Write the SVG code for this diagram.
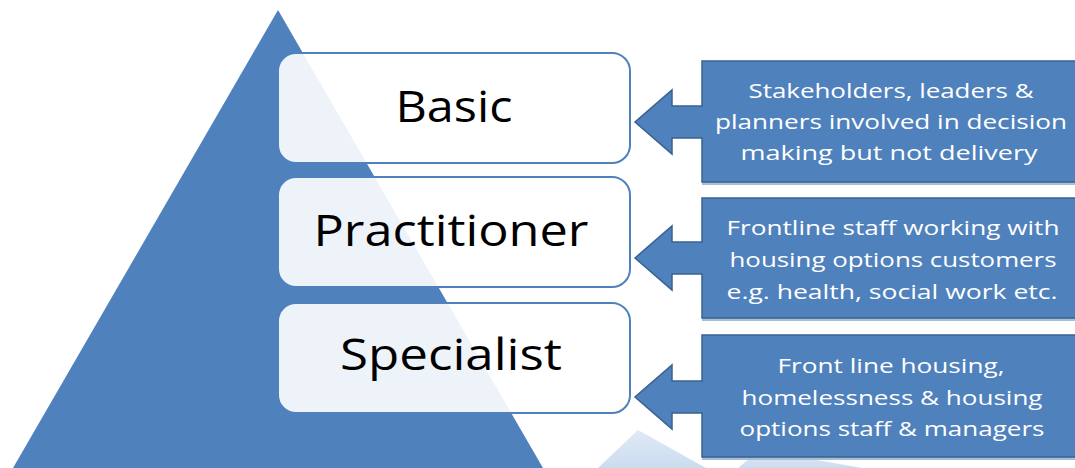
<svg xmlns="http://www.w3.org/2000/svg" width="1075" height="468" viewBox="0 0 1075 468">
  <defs>
    <linearGradient id="fade" x1="0" y1="0" x2="0" y2="1">
      <stop offset="0" stop-color="#DCE7F4" stop-opacity="0.9"/>
      <stop offset="1" stop-color="#C6D8EE" stop-opacity="0.9"/>
    </linearGradient>
  </defs>
  <style>
    .tri { fill: #4F81BD; }
    .box { fill: #FFFFFF; fill-opacity: 0.9; stroke: #4F81BD; stroke-width: 2; }
    .lbl { font-family: "Open Sans", "Liberation Sans", sans-serif; font-size: 44px; fill: #000000; text-anchor: middle; }
    .call { fill: #4F81BD; stroke: #3A6190; stroke-width: 1.5; }
    .shadow { fill: #A9BDD6; }
    .ctext { font-family: "Open Sans", "Liberation Sans", sans-serif; font-size: 20px; fill: #FFFFFF; text-anchor: middle; }
  </style>
  <rect width="1075" height="468" fill="#FFFFFF"/>

  <g id="reflection">
    <polygon points="638,430 598,468 706,468" fill="url(#fade)"/>
    <polygon points="760,450 738,468 862,468" fill="url(#fade)"/>
  </g>

  <g id="pyramid">
    <polygon class="tri" points="278,10 13,468 543,468"/>
  </g>

  <g id="node-basic">
    <rect class="box" x="278" y="53" width="352" height="110" rx="18" ry="18"/>
    <text class="lbl" x="454" y="122" textLength="117" lengthAdjust="spacingAndGlyphs">Basic</text>
  </g>
  <g id="node-practitioner">
    <rect class="box" x="278" y="177" width="352" height="110" rx="18" ry="18"/>
    <text class="lbl" x="451" y="246" textLength="275" lengthAdjust="spacingAndGlyphs">Practitioner</text>
  </g>
  <g id="node-specialist">
    <rect class="box" x="278" y="303" width="352" height="110" rx="18" ry="18"/>
    <text class="lbl" x="451" y="370" textLength="222" lengthAdjust="spacingAndGlyphs">Specialist</text>
  </g>

  <g id="connectors">
    <g id="callout-1">
      <path class="shadow" d="M702,64 L1077,64 L1077,185 L702,185 Z"/>
      <path class="call" d="M702,61 L1077,61 L1077,182 L702,182 L702,138 L672,138 L672,154 L635,122 L672,90 L672,106 L702,106 Z"/>
      <text class="ctext" x="891" y="98" textLength="285" lengthAdjust="spacingAndGlyphs">Stakeholders, leaders &amp;</text>
      <text class="ctext" x="891" y="129" textLength="352" lengthAdjust="spacingAndGlyphs">planners involved in decision</text>
      <text class="ctext" x="889" y="160" textLength="297" lengthAdjust="spacingAndGlyphs">making but not delivery</text>
    </g>
    <g id="callout-2">
      <path class="shadow" d="M702,201 L1077,201 L1077,321 L702,321 Z"/>
      <path class="call" d="M702,198 L1077,198 L1077,318 L702,318 L702,274 L672,274 L672,290 L635,258 L672,226 L672,242 L702,242 Z"/>
      <text class="ctext" x="893" y="235" textLength="333" lengthAdjust="spacingAndGlyphs">Frontline staff working with</text>
      <text class="ctext" x="893" y="267" textLength="327" lengthAdjust="spacingAndGlyphs">housing options customers</text>
      <text class="ctext" x="892" y="299" textLength="331" lengthAdjust="spacingAndGlyphs">e.g. health, social work etc.</text>
    </g>
    <g id="callout-3">
      <path class="shadow" d="M702,338 L1077,338 L1077,460 L702,460 Z"/>
      <path class="call" d="M702,335 L1077,335 L1077,457 L702,457 L702,413 L672,413 L672,429 L635,397 L672,365 L672,381 L702,381 Z"/>
      <text class="ctext" x="891" y="373" textLength="227" lengthAdjust="spacingAndGlyphs">Front line housing,</text>
      <text class="ctext" x="892" y="405" textLength="301" lengthAdjust="spacingAndGlyphs">homelessness &amp; housing</text>
      <text class="ctext" x="892" y="436" textLength="305" lengthAdjust="spacingAndGlyphs">options staff &amp; managers</text>
    </g>
  </g>
</svg>
